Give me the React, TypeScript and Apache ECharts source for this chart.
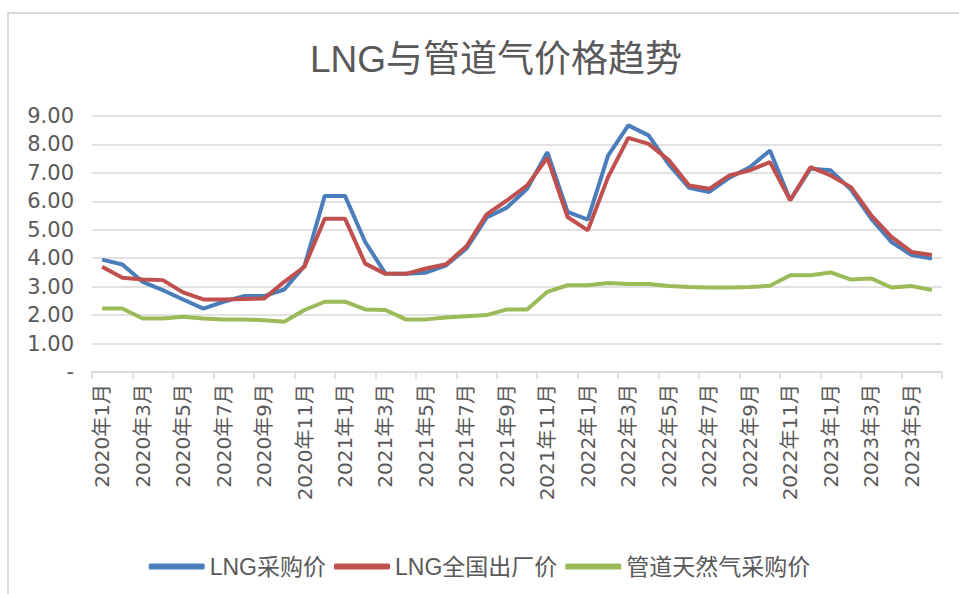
import React, { useEffect, useRef } from "react";
import * as echarts from "echarts";

const categories: string[] = [
  "2020年1月", "2020年2月", "2020年3月", "2020年4月", "2020年5月", "2020年6月",
  "2020年7月", "2020年8月", "2020年9月", "2020年10月", "2020年11月", "2020年12月",
  "2021年1月", "2021年2月", "2021年3月", "2021年4月", "2021年5月", "2021年6月",
  "2021年7月", "2021年8月", "2021年9月", "2021年10月", "2021年11月", "2021年12月",
  "2022年1月", "2022年2月", "2022年3月", "2022年4月", "2022年5月", "2022年6月",
  "2022年7月", "2022年8月", "2022年9月", "2022年10月", "2022年11月", "2022年12月",
  "2023年1月", "2023年2月", "2023年3月", "2023年4月", "2023年5月", "2023年6月",
];

const lngPurchase: number[] = [
  3.95, 3.78, 3.17, 2.88, 2.55, 2.23, 2.47, 2.67, 2.67, 2.9, 3.73, 6.19,
  6.19, 4.57, 3.46, 3.45, 3.49, 3.75, 4.34, 5.43, 5.78, 6.44, 7.73, 5.63,
  5.36, 7.61, 8.67, 8.32, 7.3, 6.48, 6.33, 6.83, 7.2, 7.79, 6.04, 7.15,
  7.09, 6.41, 5.39, 4.57, 4.11, 3.99,
];

const lngFactory: number[] = [
  3.7, 3.31, 3.25, 3.23, 2.8, 2.55, 2.55, 2.57, 2.58, 3.17, 3.7, 5.39,
  5.39, 3.81, 3.45, 3.45, 3.64, 3.79, 4.42, 5.54, 6.03, 6.56, 7.53, 5.45,
  4.98, 6.85, 8.23, 8.02, 7.45, 6.56, 6.44, 6.91, 7.09, 7.38, 6.04, 7.2,
  6.91, 6.5, 5.51, 4.75, 4.22, 4.11,
];

const pipelineGas: number[] = [
  2.23, 2.23, 1.88, 1.88, 1.94, 1.88, 1.85, 1.85, 1.82, 1.77, 2.18, 2.47,
  2.47, 2.2, 2.18, 1.85, 1.85, 1.92, 1.96, 2.0, 2.2, 2.2, 2.82, 3.05,
  3.05, 3.13, 3.09, 3.09, 3.02, 2.99, 2.97, 2.97, 2.99, 3.03, 3.4, 3.4,
  3.5, 3.25, 3.29, 2.97, 3.02, 2.88,
];

const seriesNames: string[] = ["LNG采购价", "LNG全国出厂价", "管道天然气采购价"];
const seriesColors: string[] = ["#4a7ebb", "#c0504d", "#9bbb59"];
const titleText = "LNG与管道气价格趋势";

const FONT = "'Liberation Sans', 'Noto Sans CJK SC', sans-serif";
const AXIS_FONT = "'DejaVu Sans', 'Noto Sans CJK SC', sans-serif";
const TEXT_COLOR = "#595959";
const GRID_COLOR = "#d9d9d9";

export default function App() {
  const ref = useRef<HTMLDivElement>(null);

  useEffect(() => {
    if (!ref.current) return;
    const chart = echarts.init(ref.current, undefined, { renderer: "svg" });
    const values = [lngPurchase, lngFactory, pipelineGas];
    chart.setOption({
      animation: false,
      backgroundColor: "#ffffff",
      textStyle: { fontFamily: FONT },
      title: {
        text: titleText,
        left: 491,
        top: 36,
        textAlign: "center",
        textStyle: {
          fontFamily: FONT,
          fontSize: 37,
          fontWeight: "normal",
          color: TEXT_COLOR,
        },
      },
      graphic: [
        {
          type: "rect",
          shape: { x: 8, y: 13, width: 1000, height: 650 },
          style: { fill: "none", stroke: GRID_COLOR, lineWidth: 2 },
          silent: true,
          z: -1,
        },
      ],
      legend: {
        left: "center",
        top: 550,
        icon: "roundRect",
        itemWidth: 56,
        itemHeight: 6,
        itemGap: 8,
        textStyle: { fontFamily: FONT, fontSize: 23, color: TEXT_COLOR },
        data: seriesNames,
      },
      grid: { left: 92, right: 17, top: 116, bottom: 222, containLabel: false },
      xAxis: {
        type: "category",
        data: categories,
        boundaryGap: true,
        axisLine: { show: true, lineStyle: { color: GRID_COLOR, width: 1.5 } },
        axisTick: {
          show: true,
          interval: 1,
          length: 7,
          lineStyle: { color: GRID_COLOR, width: 1.5 },
        },
        axisLabel: {
          interval: 1,
          rotate: 90,
          margin: 12,
          fontSize: 20,
          fontFamily: AXIS_FONT,
          color: TEXT_COLOR,
        },
      },
      yAxis: {
        type: "value",
        min: 0,
        max: 9,
        interval: 1,
        axisLine: { show: false },
        axisTick: { show: false },
        splitLine: { lineStyle: { color: GRID_COLOR, width: 1.5 } },
        axisLabel: {
          margin: 18,
          fontSize: 21,
          fontFamily: AXIS_FONT,
          color: TEXT_COLOR,
          formatter: (v: number) => (v === 0 ? "-" : v.toFixed(2)),
        },
      },
      series: seriesNames.map((name, i) => ({
        name,
        type: "line",
        data: values[i],
        symbol: "none",
        smooth: false,
        color: seriesColors[i],
        lineStyle: { width: 4, color: seriesColors[i] },
      })),
    });
    return () => chart.dispose();
  }, []);

  return (
    <div
      ref={ref}
      style={{ position: "absolute", left: 0, top: 0, width: 959, height: 594 }}
    />
  );
}
